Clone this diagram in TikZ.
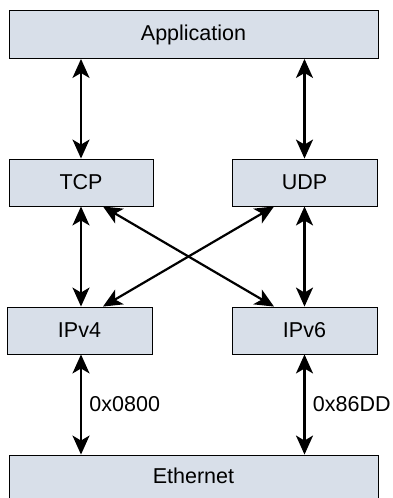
\documentclass[tikz,border=0pt]{standalone}
\usepackage{fontspec}
\setmainfont{Liberation Sans}
\usetikzlibrary{positioning,arrows.meta}
\definecolor{layerfill}{RGB}{216,223,233}
\tikzset{
    layer/.style={draw=black, fill=layerfill, line width=0.9pt, inner sep=0pt, font=\fontsize{21.5}{25}\selectfont},
    tag/.style={font=\fontsize{21.5}{25}\selectfont},
    link/.style={line width=2.2pt, {Stealth[length=19pt, width=17pt, inset=5pt]}-{Stealth[length=19pt, width=17pt, inset=5pt]}}
}

\begin{document}
\begin{tikzpicture}[x=1pt, y=-1pt]
    \clip (0,0) rectangle (392,498);
    \fill[white] (0,0) rectangle (392,498);

    % layers
    \node[layer, minimum width=369pt, minimum height=48pt] (app) at (193.5,34.5) {Application};
    \node[layer, minimum width=144pt, minimum height=47pt] (tcp) at (81,182.5) {TCP};
    \node[layer, minimum width=145pt, minimum height=47pt] (udp) at (304.5,182.5) {UDP};
    \node[layer, minimum width=145pt, minimum height=47pt] (ipv4) at (79.5,330.5) {IPv4};
    \node[layer, minimum width=145pt, minimum height=47pt] (ipv6) at (304.5,330.5) {IPv6};
    \node[layer, minimum width=369pt, minimum height=60pt] (eth) at (193.5,485) {};
    \node[tag] (ethlabel) at (193.5,476) {Ethernet};

    % links
    \draw[link] (app.south -| tcp.north) -- (tcp.north);
    \draw[link] (app.south -| udp.north) -- (udp.north);
    \draw[link] (tcp.south) -- (tcp.south |- ipv4.north);
    \draw[link] (udp.south) -- (udp.south |- ipv6.north);
    \draw[link] ([xshift=22pt]tcp.south) -- ([xshift=-30.5pt]ipv6.north);
    \draw[link] ([xshift=-30.5pt]udp.south) -- ([xshift=23.5pt]ipv4.north);
    \draw[link] (ipv4.south -| tcp.south) -- (eth.north -| tcp.south)
        node[midway, right=4pt, tag] (v4type) {0x0800};
    \draw[link] (ipv6.south) -- (ipv6.south |- eth.north)
        node[midway, right=4pt, tag] (v6type) {0x86DD};
\end{tikzpicture}
\end{document}
